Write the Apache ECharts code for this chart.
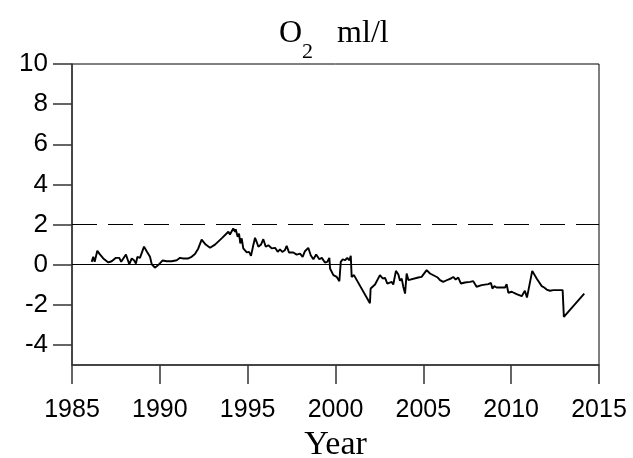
<!DOCTYPE html>
<html><head><meta charset="utf-8">
<script src="https://cdn.jsdelivr.net/npm/echarts@6/dist/echarts.min.js"></script>
<style>html,body{margin:0;padding:0;background:#fff}#c{width:633px;height:458px}</style>
</head><body><div id="c"></div>
<script>
const years = [
1986.12,1986.21,1986.29,1986.44,1986.59,1986.78,1987.07,1987.26,1987.50,1987.69,
1987.80,1988.07,1988.26,1988.40,1988.53,1988.64,1988.72,1988.87,1989.10,1989.25,
1989.44,1989.54,1989.72,1989.91,1990.16,1990.39,1990.68,1990.96,1991.15,1991.34,
1991.62,1991.81,1992.00,1992.19,1992.38,1992.61,1992.86,1993.14,1993.52,1993.90,
1993.99,1994.18,1994.28,1994.32,1994.43,1994.51,1994.58,1994.66,1994.75,1994.85,
1994.95,1995.08,1995.19,1995.32,1995.42,1995.51,1995.61,1995.76,1995.89,1996.03,
1996.18,1996.37,1996.56,1996.71,1996.84,1996.97,1997.12,1997.22,1997.35,1997.60,
1997.79,1997.98,1998.13,1998.26,1998.45,1998.59,1998.74,1998.90,1999.08,1999.22,
1999.40,1999.53,1999.65,1999.69,1999.78,1999.88,2000.07,2000.22,2000.30,2000.41,
2000.54,2000.67,2000.79,2000.87,2000.92,2001.05,2001.96,2002.00,2002.25,2002.53,
2002.69,2002.82,2002.95,2003.20,2003.29,2003.44,2003.58,2003.67,2003.77,2003.86,
2003.96,2004.05,2004.15,2004.24,2004.71,2004.90,2005.19,2005.38,2005.82,2005.95,
2006.13,2006.42,2006.57,2006.70,2006.84,2006.99,2007.14,2007.37,2007.66,2007.84,
2008.03,2008.32,2008.70,2008.85,2008.93,2009.04,2009.17,2009.65,2009.74,2009.84,
2010.03,2010.31,2010.60,2010.78,2010.90,2011.01,2011.20,2011.45,2011.74,2011.88,
2012.02,2012.21,2012.40,2012.93,2013.00,2014.16
];
const o2 = [
0.14,0.39,0.14,0.69,0.51,0.31,0.11,0.17,0.34,0.34,
0.14,0.51,0.02,0.31,0.22,0.06,0.39,0.34,0.90,0.67,
0.39,0.02,-0.15,-0.02,0.21,0.17,0.17,0.22,0.34,0.31,
0.31,0.39,0.53,0.81,1.25,1.00,0.84,1.00,1.31,1.64,
1.50,1.80,1.64,1.77,1.39,1.55,1.06,1.31,0.81,0.89,
0.61,0.64,0.44,0.97,1.34,1.14,0.89,1.00,1.27,0.89,
0.97,0.81,0.84,0.64,0.76,0.64,0.72,0.94,0.61,0.61,
0.50,0.55,0.39,0.67,0.84,0.47,0.27,0.51,0.27,0.34,
0.11,0.14,0.34,-0.19,-0.11,-0.52,-0.61,-0.82,0.14,0.27,
0.22,0.34,0.22,0.44,-0.61,-0.52,-1.92,-1.19,-0.99,-0.52,
-0.69,-0.66,-0.94,-0.86,-0.99,-0.31,-0.49,-0.80,-0.70,-1.10,
-1.44,-0.44,-0.77,-0.69,-0.64,-0.61,-0.27,-0.44,-0.64,-0.77,
-0.86,-0.74,-0.69,-0.61,-0.74,-0.64,-0.94,-0.89,-0.86,-0.82,
-1.10,-1.02,-0.97,-0.91,-1.19,-1.07,-1.14,-1.14,-0.97,-1.40,
-1.35,-1.47,-1.57,-1.30,-1.64,-1.64,-0.31,-0.69,-1.07,-1.14,
-1.24,-1.30,-1.27,-1.27,-2.60,-1.44
];
const yTickLabels = [-4,-2,0,2,4,6,8,10];
const xTickLabels = [1985,1990,1995,2000,2005,2010,2015];
const refSolid = 0;
const refDashed = 2;

const chart = echarts.init(document.getElementById('c'), null, {renderer:'canvas'});
const axisColor = '#333';
chart.setOption({
  animation:false,
  backgroundColor:'#fff',
  title:{
    text:'{o|O}{s|2}{o|   ml/l}',
    left:279, top:18, padding:0,
    textStyle:{
      fontWeight:'normal',
      rich:{
        o:{fontFamily:'Liberation Serif',fontWeight:'normal',fontSize:32,color:'#000',lineHeight:36,verticalAlign:'top'},
        s:{fontFamily:'Liberation Serif',fontWeight:'normal',fontSize:22,color:'#000',lineHeight:22,verticalAlign:'top',padding:[23,0,0,0]}
      }
    }
  },
  grid:{left:72,right:34,top:64,bottom:93,show:true,borderColor:'#000',borderWidth:1,containLabel:false,outerBoundsMode:'none'},
  xAxis:{
    type:'value',min:1985,max:2015,interval:5,
    name:'Year',nameLocation:'middle',nameGap:52,
    nameTextStyle:{fontFamily:'Liberation Serif',fontSize:34,color:'#000'},
    axisLine:{show:true,onZero:false,lineStyle:{color:axisColor,width:1.5}},
    axisTick:{show:true,length:19,lineStyle:{color:axisColor,width:1.5},customValues:xTickLabels},
    axisLabel:{fontFamily:'Liberation Sans',fontSize:25,color:'#000',margin:33,customValues:xTickLabels,formatter:v=>String(v)},
    splitLine:{show:false}
  },
  yAxis:{
    type:'value',min:-5,max:10,interval:1,
    axisLine:{show:true,onZero:false,lineStyle:{color:axisColor,width:1.5}},
    axisTick:{show:true,length:19,lineStyle:{color:axisColor,width:1.5},customValues:yTickLabels},
    axisLabel:{fontFamily:'Liberation Sans',fontSize:26,color:'#000',margin:24,customValues:yTickLabels,formatter:v=>String(v)},
    splitLine:{show:false}
  },
  series:[{
    type:'line',
    data:years.map((y,i)=>[y,o2[i]]),
    showSymbol:false,symbol:'none',
    lineStyle:{color:'#000',width:1.9},
    markLine:{
      silent:true,symbol:['none','none'],label:{show:false},
      data:[
        {yAxis:refSolid,lineStyle:{color:'#000',width:1.2,type:'solid'}},
        {yAxis:refDashed,lineStyle:{color:'#000',width:1.2,type:[25,11]}}
      ]
    }
  }]
});
</script>
</body></html>
